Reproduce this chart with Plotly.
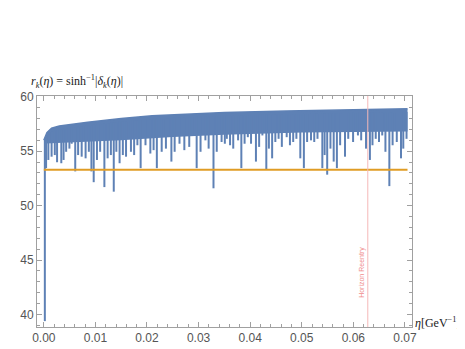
import numpy as np
import plotly.graph_objects as go

# upper envelope of the oscillating r_k(eta)
top_eta = [0.0, 0.0006, 0.0015, 0.003, 0.0085, 0.015, 0.021, 0.027, 0.035, 0.047, 0.06, 0.0705]
top_r = [56.0, 56.7, 57.1, 57.3, 57.65, 58.0, 58.25, 58.4, 58.55, 58.68, 58.82, 58.9]

# lower edge of the dense part of the band
body_eta = [0.0003, 0.006, 0.015, 0.025, 0.035, 0.05, 0.0705]
body_r = [55.7, 55.8, 56.0, 56.3, 56.5, 56.7, 56.8]

# downward spikes (minima) of the blue curve
dip_eta = [0.0002, 0.00044, 0.00088, 0.00151, 0.00213, 0.00257, 0.00339, 0.00383, 0.00433,
           0.00496, 0.0054, 0.00609, 0.00665, 0.00734, 0.0081, 0.00873, 0.00923, 0.00967,
           0.0103, 0.01092, 0.01174, 0.01237, 0.013, 0.01356, 0.01406, 0.01469, 0.01532,
           0.01594, 0.01689, 0.01751, 0.01814, 0.01877, 0.01971, 0.02065, 0.02128, 0.02191,
           0.02285, 0.02367, 0.02411, 0.02473, 0.02536, 0.0263, 0.02724, 0.02819, 0.02881,
           0.02963, 0.03038, 0.03132, 0.03195, 0.03289, 0.03352, 0.03446, 0.03509,
           0.03547, 0.0361, 0.03672, 0.03766, 0.03829, 0.03892, 0.03955, 0.04017, 0.04112,
           0.04174, 0.04237, 0.04313, 0.04363, 0.04426, 0.04488, 0.04551, 0.04614, 0.04708,
           0.04771, 0.04834, 0.04896, 0.04972, 0.05041, 0.05104, 0.05179, 0.05242, 0.05305,
           0.05399, 0.05443, 0.05493, 0.05556, 0.05619, 0.05681, 0.05744, 0.05838, 0.05901,
           0.05995, 0.06089, 0.06152, 0.06246, 0.06321, 0.06371, 0.06434, 0.06497, 0.0656,
           0.06622, 0.06698, 0.06761, 0.06842, 0.06924, 0.06968, 0.07031]
dip_r = [39.4, 53.44, 54.19, 54.49, 54.64, 53.98, 53.89, 54.19, 54.94,
         55.23, 55.68, 53.14, 54.64, 54.49, 54.34, 54.94, 53.14, 52.15,
         54.19, 54.94, 51.70, 54.34, 54.64, 51.28, 54.94, 53.89, 54.64,
         54.49, 54.94, 54.64, 55.54, 53.44, 55.54, 54.78, 55.09, 53.44,
         54.94, 55.23, 56.44, 54.04, 54.94, 55.68, 55.09, 55.39, 56.44,
         53.44, 54.94, 55.99, 55.23, 51.59, 54.94, 55.84, 55.68,
         56.13, 55.54, 55.23, 55.99, 53.44, 55.68, 56.28, 55.68, 54.04,
         55.39, 56.44, 53.29, 55.23, 54.34, 55.84, 56.13, 55.39, 56.28,
         55.54, 55.84, 56.13, 54.34, 53.44, 55.84, 55.99, 55.84, 56.13,
         53.44, 54.64, 52.84, 55.23, 54.04, 53.44, 55.54, 54.49, 56.13,
         55.84, 56.44, 55.99, 55.23, 54.19, 55.54, 56.13, 55.84, 56.44,
         54.94, 51.79, 55.54, 55.84, 54.34, 55.23, 56.13]

orange_r = 53.3
eta_end = 0.0705
horizon_eta = 0.0628

blue = '#5E81B5'
orange = '#E09C24'

fig = go.Figure()

# dense band
fig.add_trace(go.Scatter(x=body_eta, y=body_r, mode='lines', line=dict(width=0, color=blue),
                         showlegend=False, hoverinfo='skip'))
fig.add_trace(go.Scatter(x=top_eta, y=top_r, mode='lines', line=dict(width=1.5, color=blue),
                         fill='tonexty', fillcolor=blue, showlegend=False))

# spikes
tops = np.interp(dip_eta, top_eta, top_r) - 0.3
sx, sy = [], []
for e, t, d in zip(dip_eta, tops, dip_r):
    sx += [e, e, None]
    sy += [t, d, None]
fig.add_trace(go.Scatter(x=sx, y=sy, mode='lines', line=dict(width=2, color=blue),
                         showlegend=False))

# constant line
fig.add_trace(go.Scatter(x=[0, eta_end], y=[orange_r, orange_r], mode='lines',
                         line=dict(width=2, color=orange), showlegend=False))

axis_common = dict(showline=True, linecolor='#A0A0A0', linewidth=1, mirror='ticks',
                   ticks='inside', ticklen=5, tickcolor='#A0A0A0', showgrid=False,
                   zeroline=False, tickfont=dict(family='Liberation Sans', size=12, color='#555555'))

fig.update_layout(
    width=465, height=349,
    margin=dict(l=18, r=61, t=88, b=25),
    plot_bgcolor='white', paper_bgcolor='white',
    xaxis=dict(range=[-0.00132, 0.07137], dtick=0.01, tick0=0, tickformat='.2f',
               minor=dict(dtick=0.002, ticks='inside', ticklen=3, tickcolor='#A0A0A0'),
               **axis_common),
    yaxis=dict(range=[38.86, 60.06], dtick=5, tick0=40,
               minor=dict(dtick=1, ticks='inside', ticklen=3, tickcolor='#A0A0A0'),
               **axis_common),
    shapes=[dict(type='line', xref='x', yref='paper', x0=horizon_eta, x1=horizon_eta,
                 y0=0, y1=1, line=dict(color='#F5B8B8', width=1))],
    annotations=[
        dict(x=horizon_eta, y=43.9, xref='x', yref='y', text='Horizon Reentry',
             textangle=-90, showarrow=False, xshift=-6,
             font=dict(family='Liberation Sans', size=7, color='#F08C8C')),
        dict(x=0, y=1.064, xref='paper', yref='paper', xanchor='left', yanchor='middle',
             xshift=-8,
             text='<i>r</i><sub><i>k</i></sub>(<i>η</i>) = sinh<sup>−1</sup>|<i>δ</i><sub><i>k</i></sub>(<i>η</i>)|',
             showarrow=False, font=dict(family='Liberation Serif', size=12, color='#222222')),
        dict(x=1.135, y=0.02, xref='paper', yref='paper', xanchor='right', yanchor='middle',
             text='<i>η</i>[GeV<sup>−1</sup>]', showarrow=False,
             font=dict(family='Liberation Serif', size=12, color='#222222')),
    ],
)

fig.write_html("out.html")
